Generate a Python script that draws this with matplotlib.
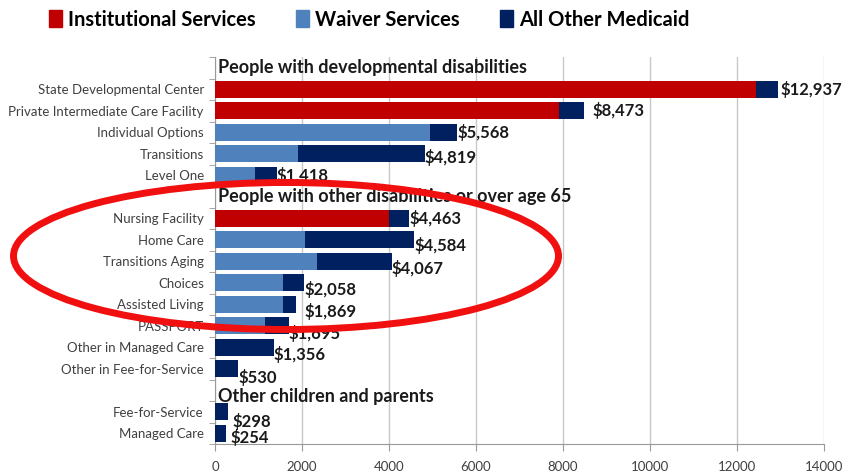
import numpy as np
import matplotlib
matplotlib.use('Agg')
import matplotlib.pyplot as plt
from matplotlib.patches import Ellipse, Patch

# Данные (строки-заголовки групп оставлены пустыми)
categories = ['', 'State Developmental Center', 'Private Intermediate Care Facility',
              'Individual Options', 'Transitions', 'Level One',
              '', 'Nursing Facility', 'Home Care', 'Transitions Aging', 'Choices',
              'Assisted Living', 'PASSPORT', 'Other in Managed Care', 'Other in Fee-for-Service',
              '', 'Fee-for-Service', 'Managed Care']
institutional = [0, 12430, 7910, 0, 0, 0,
                 0, 4000, 0, 0, 0, 0, 0, 0, 0,
                 0, 0, 0]
waiver = [0, 0, 0, 4940, 1900, 920,
          0, 0, 2060, 2340, 1570, 1570, 1140, 0, 0,
          0, 0, 0]
totals = [0, 12937, 8473, 5568, 4819, 1418,
          0, 4463, 4584, 4067, 2058, 1869, 1695, 1356, 530,
          0, 298, 254]
headers = ['People with developmental disabilities',
           'People with other disabilities or over age 65',
           'Other children and parents']
header_rows = [0, 6, 15.3]

RED = '#C00000'
LIGHT = '#4F81BD'
NAVY = '#002060'

plt.rcParams['font.family'] = ['Lato', 'DejaVu Sans']

institutional = np.array(institutional)
waiver = np.array(waiver)
totals = np.array(totals)
other = totals - institutional - waiver

fig = plt.figure(figsize=(8.44, 4.76), dpi=100)
ax = fig.add_axes([0.2547, 0.0672, 0.7216, 0.8128])

y = np.arange(len(categories))
h = 0.8
ax.barh(y, institutional, height=h, color=RED, zorder=3)
ax.barh(y, waiver, left=institutional, height=h, color=LIGHT, zorder=3)
ax.barh(y, other, left=institutional + waiver, height=h, color=NAVY, zorder=3)

# подписи значений
label_dy = [0, 0, 0, 0, 0.15, 0,
            0, 0, 0.25, 0.35, 0.3, 0.35, 0.35, 0.35, 0.4,
            0, 0.45, 0.2]
label_dx = [0, 60, 200, 0, 0, 0,
            0, 0, 0, 0, 0, 200, 0, 0, 0,
            0, 100, 100]
for i, t in enumerate(totals):
    if t > 0:
        ax.text(t + label_dx[i], i + label_dy[i], '${:,}'.format(t), va='center', ha='left',
                fontsize=12, fontweight='bold', color='#1a1a1a', zorder=5)

for txt, r in zip(headers, header_rows):
    ax.text(60, r, txt, va='center', ha='left', fontsize=13, fontweight='bold',
            color='#1a1a1a', zorder=5)

ax.set_xlim(0, 14000)
ax.set_ylim(len(categories) - 0.5, -0.5)
ax.set_xticks(np.arange(0, 14001, 2000))
ax.set_yticks(y)
ax.set_yticklabels(categories, fontsize=9.5, color='#404040')
ax.set_yticks(np.arange(-0.5, len(categories), 1), minor=True)
ax.tick_params(axis='y', which='major', length=0, pad=8)
ax.tick_params(axis='y', which='minor', length=4, color='#999999')
ax.tick_params(axis='x', length=5, color='#999999', labelsize=9.5, labelcolor='#404040', pad=7)
ax.grid(axis='x', color='#c8c8c8', linewidth=1, zorder=0)
for s in ['top', 'right']:
    ax.spines[s].set_visible(False)
for s in ['left', 'bottom']:
    ax.spines[s].set_color('#999999')

handles = [Patch(color=RED, label='Institutional Services'),
           Patch(color=LIGHT, label='Waiver Services'),
           Patch(color=NAVY, label='All Other Medicaid')]
fig.legend(handles=handles, loc='upper center', bbox_to_anchor=(0.437, 1.018), ncol=3,
           frameon=False, handlelength=0.65, handleheight=0.9, handletextpad=0.3,
           columnspacing=2.0, prop={'family': ['Lato', 'DejaVu Sans'],
                                    'weight': 'bold', 'size': 14.5})

# красный овал
ell = Ellipse((286 / 844, 1 - 256 / 476), 545 / 844, 147 / 476, transform=fig.transFigure,
              fill=False, edgecolor='#F01010', linewidth=5, zorder=10)
fig.patches.append(ell)

plt.savefig('out.png', dpi=100)
